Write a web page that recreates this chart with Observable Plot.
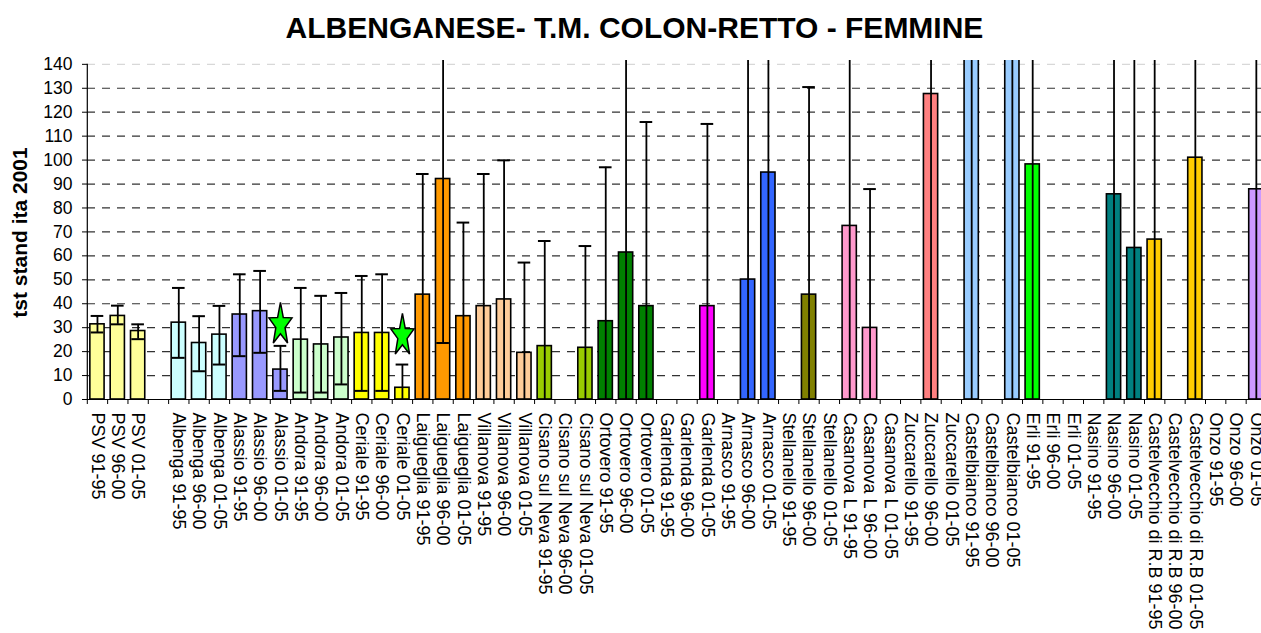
<!DOCTYPE html>
<html>
<head>
<meta charset="utf-8">
<script src="https://cdn.jsdelivr.net/npm/d3@7"></script>
<script src="https://cdn.jsdelivr.net/npm/@observablehq/plot@0.6"></script>
<style>
  html, body { margin: 0; padding: 0; background: white; overflow: hidden; }
  #title {
    box-sizing: border-box; height: 50px; padding-top: 13px; padding-left: 8px;
    font: bold 30px/1 "Liberation Sans", Arial, sans-serif; text-align: center; color: black;
    white-space: nowrap;
  }
</style>
</head>
<body>
<div id="title">ALBENGANESE- T.M. COLON-RETTO - FEMMINE</div>
<div id="chart"></div>
<script>
const categories = [
  "PSV 91-95","PSV 96-00","PSV 01-05","",
  "Albenga 91-95","Albenga 96-00","Albenga 01-05",
  "Alassio 91-95","Alassio 96-00","Alassio 01-05",
  "Andora 91-95","Andora 96-00","Andora 01-05",
  "Ceriale 91-95","Ceriale 96-00","Ceriale 01-05",
  "Laigueglia 91-95","Laigueglia 96-00","Laigueglia 01-05",
  "Villanova 91-95","Villanova 96-00","Villanova 01-05",
  "Cisano sul Neva 91-95","Cisano sul Neva 96-00","Cisano sul Neva 01-05",
  "Ortovero 91-95","Ortovero 96-00","Ortovero 01-05",
  "Garlenda 91-95","Garlenda 96-00","Garlenda 01-05",
  "Arnasco 91-95","Arnasco 96-00","Arnasco 01-05",
  "Stellanello 91-95","Stellanello 96-00","Stellanello 01-05",
  "Casanova L 91-95","Casanova L 96-00","Casanova L 01-05",
  "Zuccarello 91-95","Zuccarello 96-00","Zuccarello 01-05",
  "Castelbianco 91-95","Castelbianco 96-00","Castelbianco 01-05",
  "Erli 91-95","Erli 96-00","Erli 01-05",
  "Nasino 91-95","Nasino 96-00","Nasino 01-05",
  "Castelvecchio di R.B 91-95","Castelvecchio di R.B 96-00","Castelvecchio di R.B 01-05",
  "Onzo 91-95","Onzo 96-00","Onzo 01-05"
];
const values = [
  31.4, 34.9, 28.6, null,
  32.1, 23.6, 27.1,
  35.5, 36.9, 12.5,
  25.0, 23.0, 25.9,
  27.8, 27.8, 4.9,
  43.8, 92.1, 34.8,
  39.0, 41.8, 19.5,
  22.3, null, 21.6,
  32.7, 61.4, 39.0,
  null, null, 39.0,
  null, 50.1, 94.8,
  null, 43.8, null,
  72.5, 29.9, null,
  null, 127.6, null,
  165, null, 160,
  98.2, null, null,
  null, 85.7, 63.3,
  66.8, null, 101.0,
  null, null, 87.8
];
const lower = [
  28.0, 31.4, 25.2, null,
  17.4, 11.8, 14.6,
  18.1, 19.5, 3.6,
  2.9, 2.9, 6.3,
  3.6, 3.6, 0,
  0, 23.6, 0,
  0, 0, 0,
  0, null, 0,
  0, 0, 0,
  null, null, 0,
  null, 0, 0,
  null, 0, null,
  0, 0, null,
  null, 0, null,
  0, null, 0,
  0, null, null,
  null, 0, 0,
  0, null, 0,
  null, null, 0
];
const upper = [
  34.9, 39.2, 31.4, null,
  46.6, 34.8, 39.1,
  52.3, 53.7, 22.4,
  46.6, 43.3, 44.5,
  51.6, 52.3, 14.6,
  94.2, 190, 73.9,
  94.2, 99.9, 57.2,
  66.2, null, 64.1,
  97.0, 180, 115.9,
  null, null, 115.1,
  null, 170, 200,
  null, 130.5, null,
  210, 87.9, null,
  null, 260, null,
  400, null, 380,
  300, null, null,
  null, 230, 220,
  240, null, 280,
  null, null, 330
];
const towns = ["PSV","Albenga","Alassio","Andora","Ceriale","Laigueglia","Villanova","Cisano sul Neva","Ortovero","Garlenda","Arnasco","Stellanello","Casanova L","Zuccarello","Castelbianco","Erli","Nasino","Castelvecchio di R.B","Onzo"];
const townColors = ["#FFFF99","#CCFFFF","#9999FF","#CCFFCC","#FFFF00","#FF9900","#FFCC99","#99CC00","#008000","#FF00FF","#3366FF","#808000","#FF99CC","#FF8080","#99CCFF","#00FF00","#008080","#FFCC00","#CC99FF"];
const starCategories = ["Alassio 01-05", "Ceriale 01-05"];
const starValues = [31.2, 26.6];
const yTicks = [0,10,20,30,40,50,60,70,80,90,100,110,120,130,140];
const yLabel = "tst stand ita 2001";

const colorOf = (cat) => {
  const t = cat.replace(/ \d\d-\d\d$/, "");
  const i = towns.indexOf(t);
  return i >= 0 ? townColors[i] : "white";
};

const data = categories.map((cat, i) => ({cat, value: values[i], lo: lower[i], hi: upper[i]}));
const stars = starCategories.map((cat, i) => ({cat, value: starValues[i]}));

const yMax = 141.6;
const xRange = [86.8, 1266];
const halfStep = (xRange[1] - xRange[0]) / categories.length / 2;

const tallStar = {
  draw(context, size) {
    const R = Math.sqrt(size / Math.PI), r = R * 0.4, sx = 0.54;
    for (let i = 0; i < 10; i++) {
      const a = Math.PI * i / 5;
      const rad = i % 2 ? r : R;
      const x = Math.sin(a) * rad * sx, y = -Math.cos(a) * rad;
      if (i) context.lineTo(x, y); else context.moveTo(x, y);
    }
    context.closePath();
  }
};

const chart = Plot.plot({
  width: 1261,
  height: 583,
  marginTop: 10,
  marginBottom: 234,
  marginLeft: 87,
  marginRight: 0,
  style: {fontFamily: "'Liberation Sans', Arial, sans-serif", color: "black", background: "white", overflow: "hidden"},
  x: {domain: categories, range: xRange, paddingInner: 0.3, paddingOuter: 0.15, round: false},
  y: {domain: [0, yMax]},
  color: {type: "identity"},
  marks: [
    Plot.gridY(yTicks.filter(d => d > 0 && d < 140), {stroke: "#333", strokeOpacity: 1, strokeWidth: 1.2, strokeDasharray: "8,7"}),
    Plot.gridY([140], {stroke: "#d8d8d8", strokeOpacity: 1, strokeWidth: 1.2, strokeDasharray: "8,7"}),
    Plot.barY(data, {filter: d => d.value != null, x: "cat", y: "value", fill: d => colorOf(d.cat), stroke: "black", strokeWidth: 1.6, clip: true}),
    Plot.ruleX(data, {filter: d => d.value != null, x: "cat", y1: "lo", y2: "hi", stroke: "black", strokeWidth: 1.8, clip: true}),
    Plot.tickY(data, {filter: d => d.hi != null && d.hi < yMax, x: "cat", y: "hi", stroke: "black", strokeWidth: 2, insetLeft: 0.8, insetRight: 0.8}),
    Plot.tickY(data, {filter: d => d.lo != null && d.lo > 0, x: "cat", y: "lo", stroke: "black", strokeWidth: 2, insetLeft: 0.8, insetRight: 0.8}),
    Plot.dot(stars, {x: "cat", y: "value", symbol: tallStar, r: 22.5, fill: "#00FF00", stroke: "black", strokeWidth: 1.5}),
    Plot.ruleY([0], {stroke: "black", strokeWidth: 1.2}),
    Plot.ruleX([categories[0]], {x: d => d, dx: -halfStep, y1: 0, y2: 140, stroke: "black", strokeWidth: 1.2}),
    Plot.axisY({ticks: yTicks, tickSize: 5, tickPadding: 10, fontSize: 17.5, tickFormat: d => String(d), label: null, stroke: "black"}),
    Plot.axisX({ticks: categories, tickSize: 5, tickFormat: () => "", dx: -halfStep, label: null, stroke: "black"}),
    Plot.axisX({tickSize: 0, tickPadding: 13, tickRotate: 90, fontSize: 18, label: null}),
    Plot.text([yLabel], {text: d => d, frameAnchor: "left", textAnchor: "middle", rotate: -90, dx: -67, dy: 2.5, fontSize: 21, fontWeight: "bold"})
  ]
});
document.getElementById("chart").appendChild(chart);
</script>
</body>
</html>
